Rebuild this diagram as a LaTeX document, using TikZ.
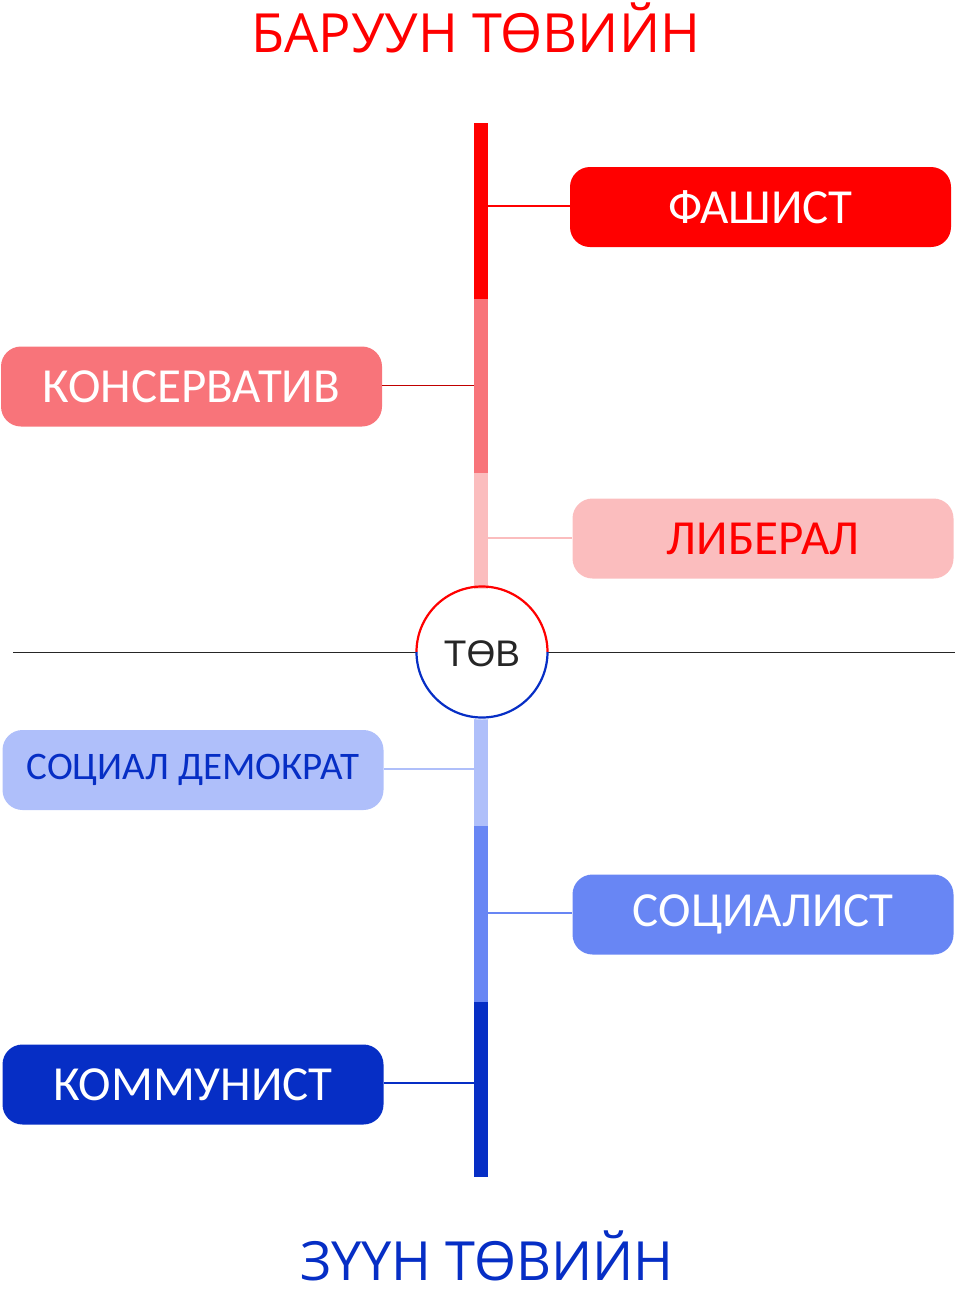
\documentclass[tikz,border=0pt]{standalone}
\usepackage{fontspec}
\setmainfont{Carlito}
\newfontfamily\titlefont{Open Sans}
\newfontfamily\tovfont{Liberation Sans}
\definecolor{cRed}{HTML}{FF0000}
\definecolor{cSalmon}{HTML}{F8747A}
\definecolor{cPink}{HTML}{FBBDBE}
\definecolor{cLBlue}{HTML}{AFBFFA}
\definecolor{cMBlue}{HTML}{6886F4}
\definecolor{cDBlue}{HTML}{062EC5}
\definecolor{cDarkRed}{HTML}{C00000}
\definecolor{cGray}{HTML}{262626}
\begin{document}
\begin{tikzpicture}[x=1pt,y=-1pt,
  box/.style={rounded corners=20pt, minimum width=381pt, minimum height=80pt, inner sep=0pt, font=\fontsize{49}{54}\selectfont},
  conn/.style={line width=1.6pt},
  title/.style={font=\titlefont\fontsize{54}{60}\selectfont, inner sep=0pt, text depth=0pt, anchor=base}]
\useasboundingbox (0,0) rectangle (955,1291);
% horizontal axis
\coordinate (axl) at (13,652);
\coordinate (axr) at (955,652);
\draw[cGray, line width=0.9pt] (axl) -- (axr);
% vertical bar segments
\fill[cRed] (474,123) rectangle (488,299);
\fill[cSalmon] (474,299) rectangle (488,473);
\fill[cPink] (474,473) rectangle (488,600);
\fill[cLBlue] (474,700) rectangle (488,826);
\fill[cMBlue] (474,826) rectangle (488,1002);
\fill[cDBlue] (474,1002) rectangle (488,1177);
% center circle
\node[circle, fill=white, minimum size=131pt, inner sep=0pt, font=\tovfont\fontsize{37}{40}\selectfont, text=cGray] (tov) at (482,654) {ТӨВ};
\draw[cRed, line width=2.2pt] (482,652) ++(180:65.5) arc[start angle=180, end angle=0, radius=65.5pt];
\draw[cDBlue, line width=2.2pt] (482,652) ++(0:65.5) arc[start angle=0, end angle=-180, radius=65.5pt];
% titles
\node[title, text=cRed] (right) at (476,52) {БАРУУН ТӨВИЙН};
\node[title, text=cDBlue] (left) at (487,1280) {ЗҮҮН ТӨВИЙН};
% boxes
\node[box, fill=cRed, text=white] (fas) at (760.5,207) {ФАШИСТ};
\node[box, fill=cSalmon, text=white] (kon) at (191.5,386.5) {КОНСЕРВАТИВ};
\node[box, fill=cPink, text=cRed] (lib) at (763,538.5) {ЛИБЕРАЛ};
\node[box, fill=cLBlue, text=cDBlue, font=\fontsize{39}{44}\selectfont] (sd) at (193,770) {СОЦИАЛ ДЕМОКРАТ};
\node[box, fill=cMBlue, text=white] (soc) at (763,914.5) {СОЦИАЛИСТ};
\node[box, fill=cDBlue, text=white] (kom) at (193,1084.5) {КОММУНИСТ};
% connectors
\coordinate (fasc) at (488,206);
\coordinate (konc) at (474,385);
\coordinate (libc) at (488,538);
\coordinate (sdc) at (474,769);
\coordinate (socc) at (488,913);
\coordinate (komc) at (474,1083);
\draw[cRed, conn] (fasc) -- (fas.west |- fasc);
\draw[cDarkRed, line width=1pt] (kon.east |- konc) -- (konc);
\draw[cPink, conn] (libc) -- (lib.west |- libc);
\draw[cLBlue, conn] (sd.east |- sdc) -- (sdc);
\draw[cMBlue, conn] (socc) -- (soc.west |- socc);
\draw[cDBlue, conn] (kom.east |- komc) -- (komc);
\end{tikzpicture}
\end{document}
